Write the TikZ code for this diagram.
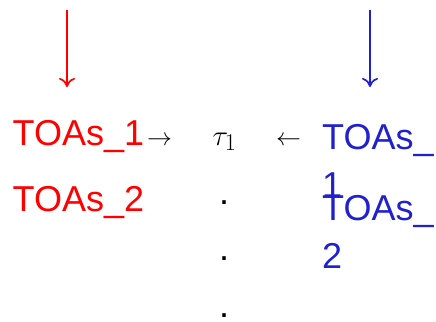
\documentclass[tikz,border=0pt]{standalone}
\usepackage{graphicx}
\usepackage{fontspec}
\setmainfont{Liberation Sans}
\usetikzlibrary{arrows.meta}
\definecolor{toared}{RGB}{255,0,0}
\definecolor{toablue}{RGB}{32,32,204}
\tikzset{
  toa/.style={anchor=base west, inner sep=0pt, align=left,
    font=\fontsize{36}{48}\selectfont},
  mathsym/.style={anchor=base west, inner sep=0pt, font=\fontsize{24.88}{28}\selectfont},
  dotmark/.style={anchor=base, inner sep=0pt, text depth=0pt,
    font=\fontsize{36}{40}\selectfont},
  feed/.style={line width=1.7pt, -{To[length=9pt,width=16pt]}},
}
\begin{document}
\begin{tikzpicture}[x=1pt,y=-1pt]
  \useasboundingbox (0,0) rectangle (436,321);

  % incoming streams
  \coordinate (rtop) at (67,10);
  \coordinate (rbot) at (67,87);
  \coordinate (btop) at (370,10);
  \coordinate (bbot) at (370,87);
  \draw[feed, toared] (rtop) -- (rbot);
  \draw[feed, toablue] (btop) -- (bbot);

  % left column
  \node[toa, text=toared] (r1) at (12.5,145) {TOAs\_1};
  \node[toa, text=toared] (r2) at (12.5,211) {TOAs\_2};

  % middle column
  \node[mathsym] (ra) at (147,145) {$\rightarrow$};
  \node[mathsym] (tau) at (212.5,145) {\scalebox{1.16}{$\tau_1$}};
  \node[mathsym] (la) at (276,145) {$\leftarrow$};
  \node[dotmark] (d1) at (224,204) {.};
  \node[dotmark] (d2) at (224,260) {.};
  \node[dotmark] (d3) at (224,317) {.};

  % right column (base anchor sits on the last line)
  \node[toa, text=toablue] (b1) at (322,197) {TOAs\_\\1};
  \node[toa, text=toablue] (b2) at (322,268) {TOAs\_\\2};
\end{tikzpicture}
\end{document}
